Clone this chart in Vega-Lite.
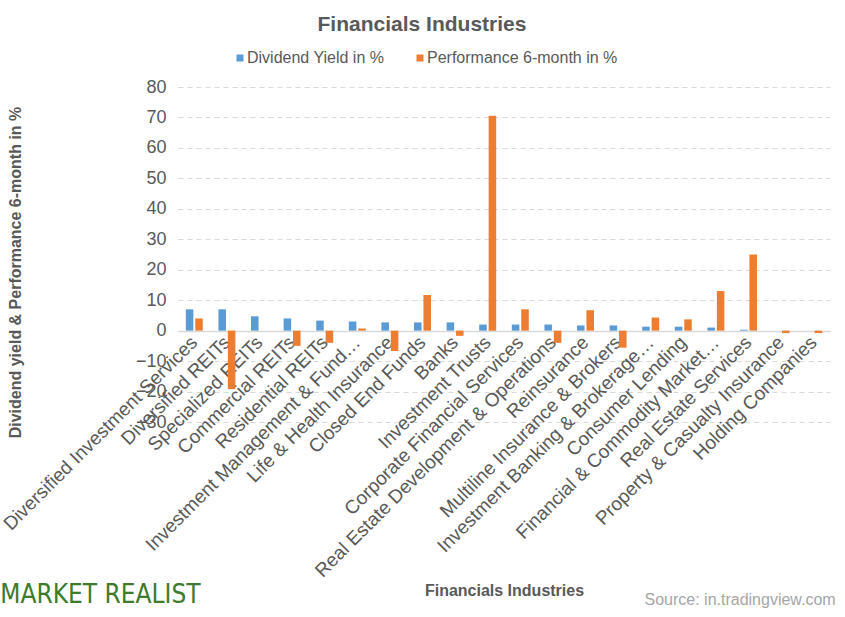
{
  "$schema": "https://vega.github.io/schema/vega-lite/v6.json",
  "width": 652,
  "height": 335,
  "autosize": {"type": "none"},
  "padding": {"left": 178, "top": 87, "right": 15, "bottom": 195},
  "background": "white",
  "config": {
    "font": "Liberation Sans",
    "view": {"stroke": null},
    "axisY": {"tickCount": 20, "labelOverlap": false}
  },
  "title": {
    "text": "Financials  Industries",
    "fontSize": 21,
    "fontWeight": "bold",
    "color": "#595959",
    "anchor": "middle",
    "frame": "group",
    "dx": -82,
    "offset": 15
  },
  "datasets": {
    "bars": [
      {"industry": "Diversified Investment Services", "series": "Dividend Yield in %", "value": 7.0},
      {"industry": "Diversified Investment Services", "series": "Performance 6-month in %", "value": 4.0},
      {"industry": "Diversified REITs", "series": "Dividend Yield in %", "value": 7.0},
      {"industry": "Diversified REITs", "series": "Performance 6-month in %", "value": -19.2},
      {"industry": "Specialized REITs", "series": "Dividend Yield in %", "value": 4.7},
      {"industry": "Specialized REITs", "series": "Performance 6-month in %", "value": 0},
      {"industry": "Commercial REITs", "series": "Dividend Yield in %", "value": 4.0},
      {"industry": "Commercial REITs", "series": "Performance 6-month in %", "value": -5.0},
      {"industry": "Residential REITs", "series": "Dividend Yield in %", "value": 3.3},
      {"industry": "Residential REITs", "series": "Performance 6-month in %", "value": -4.0},
      {"industry": "Investment Management & Fund…", "series": "Dividend Yield in %", "value": 3.0},
      {"industry": "Investment Management & Fund…", "series": "Performance 6-month in %", "value": 0.7},
      {"industry": "Life & Health Insurance", "series": "Dividend Yield in %", "value": 2.7},
      {"industry": "Life & Health Insurance", "series": "Performance 6-month in %", "value": -6.7},
      {"industry": "Closed End Funds", "series": "Dividend Yield in %", "value": 2.7},
      {"industry": "Closed End Funds", "series": "Performance 6-month in %", "value": 11.7},
      {"industry": "Banks", "series": "Dividend Yield in %", "value": 2.7},
      {"industry": "Banks", "series": "Performance 6-month in %", "value": -1.7},
      {"industry": "Investment Trusts", "series": "Dividend Yield in %", "value": 2.0},
      {"industry": "Investment Trusts", "series": "Performance 6-month in %", "value": 70.6},
      {"industry": "Corporate Financial Services", "series": "Dividend Yield in %", "value": 2.0},
      {"industry": "Corporate Financial Services", "series": "Performance 6-month in %", "value": 7.0},
      {"industry": "Real Estate Development & Operations", "series": "Dividend Yield in %", "value": 2.0},
      {"industry": "Real Estate Development & Operations", "series": "Performance 6-month in %", "value": -4.0},
      {"industry": "Reinsurance", "series": "Dividend Yield in %", "value": 1.7},
      {"industry": "Reinsurance", "series": "Performance 6-month in %", "value": 6.7},
      {"industry": "Multiline Insurance & Brokers", "series": "Dividend Yield in %", "value": 1.7},
      {"industry": "Multiline Insurance & Brokers", "series": "Performance 6-month in %", "value": -5.6},
      {"industry": "Investment Banking & Brokerage…", "series": "Dividend Yield in %", "value": 1.3},
      {"industry": "Investment Banking & Brokerage…", "series": "Performance 6-month in %", "value": 4.3},
      {"industry": "Consumer Lending", "series": "Dividend Yield in %", "value": 1.3},
      {"industry": "Consumer Lending", "series": "Performance 6-month in %", "value": 3.7},
      {"industry": "Financial & Commodity Market…", "series": "Dividend Yield in %", "value": 1.0},
      {"industry": "Financial & Commodity Market…", "series": "Performance 6-month in %", "value": 13.0},
      {"industry": "Real Estate Services", "series": "Dividend Yield in %", "value": 0.3},
      {"industry": "Real Estate Services", "series": "Performance 6-month in %", "value": 25.0},
      {"industry": "Property & Casualty Insurance", "series": "Dividend Yield in %", "value": 0},
      {"industry": "Property & Casualty Insurance", "series": "Performance 6-month in %", "value": -0.8},
      {"industry": "Holding Companies", "series": "Dividend Yield in %", "value": 0},
      {"industry": "Holding Companies", "series": "Performance 6-month in %", "value": -0.8}
    ],
    "notes": [
      {"kind": "source", "text": "Source: in.tradingview.com", "industry": "Holding Companies", "at": -30},
      {"kind": "logo", "text": "MARKET REALIST", "industry": "Diversified Investment Services", "at": -30}
    ]
  },
  "layer": [
    {
      "data": {"name": "bars"},
      "mark": {"type": "bar"},
      "encoding": {
        "x": {
          "field": "industry",
          "type": "nominal",
          "sort": null,
          "scale": {"paddingInner": 0.48, "paddingOuter": 0.24},
          "axis": {
            "title": "Financials Industries",
            "titleFontSize": 16,
            "titleFontWeight": "bold",
            "titleColor": "#595959",
            "titleY": 259,
            "titleBaseline": "middle",
            "offset": -91,
            "labelAngle": -45,
            "labelAlign": "right",
            "labelBaseline": "middle",
            "labelPadding": 8,
            "labelFontSize": 19,
            "labelColor": "#595959",
            "labelLimit": 400,
            "labelOverlap": false,
            "ticks": false,
            "domainColor": "#d9d9d9",
            "domainWidth": 1.5
          }
        },
        "xOffset": {
          "field": "series",
          "type": "nominal",
          "scale": {"paddingInner": 0.2}
        },
        "y": {
          "field": "value",
          "type": "quantitative",
          "scale": {"domain": [-30, 80], "nice": false, "zero": false},
          "axis": {
            "title": "Dividend yield & Performance 6-month in %",
            "titleFontSize": 16,
            "titleFontWeight": "bold",
            "titleColor": "#595959",
            "titleX": -163,
            "titleY": 185,
            "titleAngle": 270,
            "titleAlign": "center",
            "titleBaseline": "middle",
            "values": [-30, -20, -10, 0, 10, 20, 30, 40, 50, 60, 70, 80],
            "tickCount": 20,
            "labelOverlap": false,
            "labelFontSize": 18,
            "labelColor": "#595959",
            "labelPadding": 12,
            "ticks": false,
            "domain": false,
            "gridColor": "#d9d9d9",
            "gridDash": [5, 4]
          }
        },
        "color": {
          "field": "series",
          "type": "nominal",
          "scale": {"domain": ["Dividend Yield in %", "Performance 6-month in %"], "range": ["#5b9bd5", "#ed7d31"]},
          "legend": {
            "title": null,
            "orient": "none",
            "direction": "horizontal",
            "legendX": 54,
            "legendY": -37,
            "symbolType": "square",
            "symbolSize": 49,
            "symbolStrokeWidth": 0,
            "labelFontSize": 16,
            "labelColor": "#595959",
            "labelOffset": -1,
            "labelLimit": 300,
            "columnPadding": 27,
            "padding": 0
          }
        }
      }
    },
    {
      "data": {"name": "notes"},
      "transform": [{"filter": "datum.kind === 'source'"}],
      "mark": {"type": "text", "align": "right", "baseline": "middle", "fontSize": 16, "color": "#a6a6a6", "dx": 22, "dy": 178},
      "encoding": {
        "x": {"field": "industry", "type": "nominal", "sort": null},
        "y": {"field": "at", "type": "quantitative"},
        "text": {"field": "text"}
      }
    },
    {
      "data": {"name": "notes"},
      "transform": [{"filter": "datum.kind === 'logo'"}],
      "mark": {"type": "text", "align": "left", "baseline": "middle", "fontSize": 26, "font": "DejaVu Sans Condensed", "color": "#3e7b2e", "dx": -194, "dy": 173},
      "encoding": {
        "x": {"field": "industry", "type": "nominal", "sort": null},
        "y": {"field": "at", "type": "quantitative"},
        "text": {"field": "text"}
      }
    }
  ]
}
